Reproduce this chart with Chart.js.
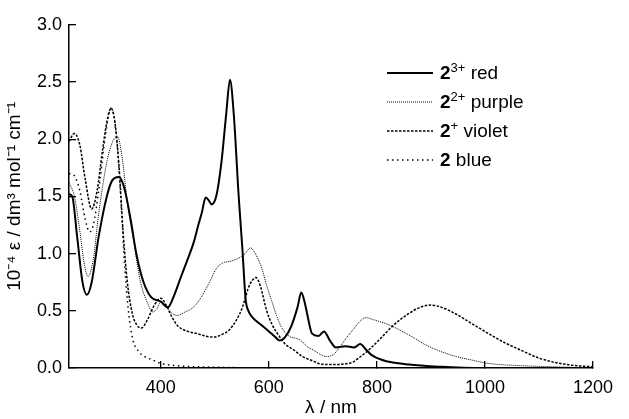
<!DOCTYPE html>
<html>
<head>
<meta charset="utf-8">
<script src="https://cdn.jsdelivr.net/npm/chart.js@4.4.1/dist/chart.umd.min.js"></script>
<style>
  html, body { margin: 0; padding: 0; background: #fff; }
  #wrap { position: relative; width: 629px; height: 419px; }
  #legend { position: absolute; left: 387px; top: 58px; font-family: "Liberation Sans", Arial, sans-serif; font-size: 19px; color: #000; }
  .row { height: 29px; display: flex; align-items: center; white-space: nowrap; }
  .row svg { width: 46px; height: 6px; margin-right: 7px; }
  sup { font-size: 13px; vertical-align: 7px; line-height: 0; }
</style>
</head>
<body>
<div id="wrap">
  <canvas id="spectra" width="629" height="419"></canvas>
  <div id="legend">
    <div class="row"><svg viewBox="0 0 46 6"><line x1="0" y1="3" x2="46" y2="3" stroke="#000" stroke-width="2"/></svg><span><b>2</b><sup>3+</sup> red</span></div>
    <div class="row"><svg viewBox="0 0 46 6"><line x1="0" y1="3" x2="46" y2="3" stroke="#000" stroke-width="1" stroke-dasharray="1 1"/></svg><span><b>2</b><sup>2+</sup> purple</span></div>
    <div class="row"><svg viewBox="0 0 46 6"><line x1="0" y1="3" x2="46" y2="3" stroke="#000" stroke-width="1.5" stroke-dasharray="2.5 1.5"/></svg><span><b>2</b><sup>+</sup> violet</span></div>
    <div class="row"><svg viewBox="0 0 46 6"><line x1="0" y1="3" x2="46" y2="3" stroke="#000" stroke-width="1.5" stroke-dasharray="1.5 3.5"/></svg><span><b>2</b> blue</span></div>
  </div>
</div>
<script>
// wavelengths (nm) and 10^-4 epsilon, one pair per species
const redNm  = [230,236,245,255,263,272,285,300,310,322,332,344,355,368,382,400,413,425,436,448,461,470,476,483,488,494,503,512,521,528,535,544,551,557,562,570,585,600,612,620,630,641,653,660,666,671,680,692,702,713,724,742,758,769,780,791,810,827,860,887,920,960,1000];
const redEps = [1.52,1.50,1.15,0.75,0.64,0.75,1.15,1.50,1.64,1.67,1.58,1.30,0.99,0.75,0.62,0.58,0.53,0.64,0.78,0.93,1.10,1.26,1.36,1.49,1.47,1.43,1.51,1.79,2.22,2.52,2.22,1.51,1.04,0.60,0.50,0.44,0.38,0.32,0.27,0.24,0.27,0.36,0.53,0.66,0.58,0.47,0.30,0.28,0.32,0.24,0.18,0.19,0.18,0.21,0.16,0.11,0.07,0.05,0.03,0.02,0.01,0.003,0];

const purpleNm  = [230,240,250,258,265,275,285,300,310,320,328,338,350,362,376,385,393,400,410,420,431,445,460,475,490,503,515,526,544,556,566,575,587,596,605,614,623,632,641,650,659,670,683,695,707,720,731,743,755,767,779,795,815,835,851,870,887,915,947,975,1007,1067,1130,1200];
const purpleEps = [1.62,1.50,1.20,0.92,0.80,0.95,1.35,1.80,1.97,2.02,1.85,1.45,1.10,0.76,0.56,0.49,0.52,0.58,0.54,0.48,0.46,0.49,0.53,0.62,0.75,0.87,0.92,0.93,0.96,1.00,1.05,1.00,0.87,0.72,0.59,0.46,0.36,0.30,0.27,0.26,0.24,0.19,0.155,0.12,0.10,0.12,0.18,0.26,0.33,0.40,0.44,0.42,0.39,0.35,0.31,0.26,0.21,0.15,0.10,0.07,0.04,0.02,0.01,0];

const violetNm  = [230,240,250,260,272,282,292,300,308,315,322,330,338,347,355,364,375,388,400,410,420,431,450,467,482,497,512,526,540,551,562,570,576,584,596,606,616,630,647,662,677,692,706,724,740,755,767,778,790,803,830,857,880,899,920,947,975,1007,1037,1067,1098,1128,1160,1200];
const violetEps = [1.98,2.05,1.95,1.65,1.39,1.55,1.90,2.15,2.27,2.15,1.80,1.20,0.75,0.48,0.38,0.35,0.42,0.55,0.61,0.55,0.45,0.37,0.32,0.30,0.28,0.27,0.29,0.33,0.42,0.53,0.70,0.77,0.79,0.72,0.50,0.38,0.30,0.21,0.155,0.10,0.07,0.04,0.03,0.03,0.035,0.05,0.09,0.13,0.18,0.24,0.37,0.47,0.53,0.55,0.53,0.47,0.39,0.30,0.22,0.155,0.09,0.05,0.025,0.01];

const blueNm  = [230,240,250,260,268,275,285,295,303,308,313,320,327,333,340,348,358,370,385,400,430,470,520,600,800,1000,1200];
const blueEps = [1.70,1.68,1.55,1.30,1.19,1.25,1.55,1.95,2.20,2.27,2.20,1.90,1.40,0.90,0.50,0.25,0.15,0.10,0.07,0.04,0.02,0.01,0.005,0,0,0,0];

const xTicks = [400, 600, 800, 1000, 1200];
const yTicks = [0, 0.5, 1.0, 1.5, 2.0, 2.5, 3.0];

const sans = '"Liberation Sans", Arial, sans-serif';
const pairs = (xs, ys) => xs.map((x, i) => ({ x: x, y: ys[i] }));

function spectrum(pts, width, dash) {
    return {
        data: pts,
        borderColor: '#000',
        borderWidth: width,
        borderDash: dash,
        pointRadius: 0,
        fill: false,
        cubicInterpolationMode: 'monotone'
    };
}

new Chart(document.getElementById('spectra'), {
    type: 'line',
    data: {
        datasets: [
            spectrum(pairs(blueNm, blueEps), 1.5, [1.5, 3.5]),
            spectrum(pairs(violetNm, violetEps), 1.5, [2.5, 1.5]),
            spectrum(pairs(purpleNm, purpleEps), 1, [1, 1]),
            spectrum(pairs(redNm, redEps), 2, [])
        ]
    },
    options: {
        responsive: false,
        animation: false,
        layout: { padding: { top: 20, right: 22, left: 0, bottom: 0 } },
        plugins: { legend: { display: false }, tooltip: { enabled: false } },
        scales: {
            x: {
                type: 'linear',
                min: 230,
                max: 1200,
                afterBuildTicks: s => { s.ticks = xTicks.map(v => ({ value: v })); },
                afterFit: s => { s.height = 51; },
                ticks: { color: '#000', font: { family: sans, size: 18 }, padding: 16, maxRotation: 0, callback: v => String(v) },
                grid: { drawOnChartArea: false, tickLength: -7, color: '#000', lineWidth: 1.3 },
                border: { color: '#000', width: 1.5 },
                title: { display: true, text: 'λ / nm', color: '#000', font: { family: sans, size: 19 }, padding: { top: 0, bottom: 0 } }
            },
            y: {
                min: 0,
                max: 3,
                afterBuildTicks: s => { s.ticks = yTicks.map(v => ({ value: v })); },
                afterFit: s => { s.width = 69; },
                ticks: { color: '#000', font: { family: sans, size: 18 }, padding: 14, callback: v => v.toFixed(1) },
                grid: { drawOnChartArea: false, tickLength: -7, color: '#000', lineWidth: 1.3 },
                border: { color: '#000', width: 1.5 },
                title: { display: true, text: '10⁻⁴ ε / dm³ mol⁻¹ cm⁻¹', color: '#000', font: { family: sans, size: 19 }, padding: { top: 3, bottom: 0 } }
            }
        }
    }
});
</script>
</body>
</html>
